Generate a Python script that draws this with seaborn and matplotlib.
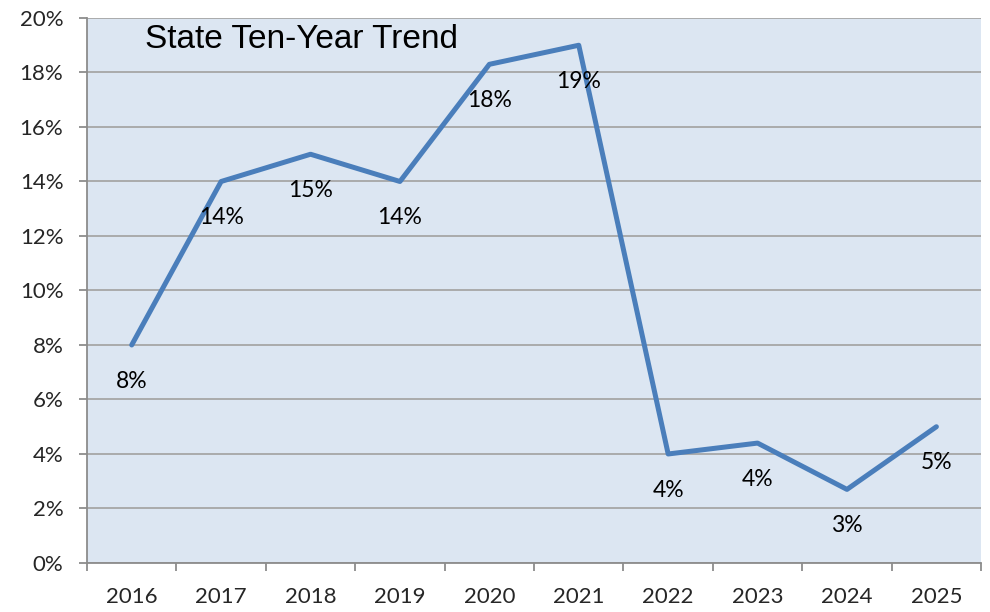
import numpy as np
import pandas as pd
import matplotlib.pyplot as plt
import seaborn as sns
from matplotlib.ticker import FixedLocator, FuncFormatter

# data
years = [2016, 2017, 2018, 2019, 2020, 2021, 2022, 2023, 2024, 2025]
rates = [8.0, 14.0, 15.0, 14.0, 18.3, 19.0, 4.0, 4.4, 2.7, 5.0]
labels = ['8%', '14%', '15%', '14%', '18%', '19%', '4%', '4%', '3%', '5%']

df = pd.DataFrame({'Year': years, 'Rate': rates})

sns.set_style('white')
plt.rcParams['font.family'] = ['Lato', 'DejaVu Sans']

fig = plt.figure(figsize=(9.9, 6.12), dpi=100)
ax = fig.add_axes([0.0879, 0.0801, 0.9031, 0.8905])
ax.set_facecolor('#dce6f2')

sns.lineplot(data=df, x='Year', y='Rate', ax=ax, color='#4a7ebb', linewidth=3.6, zorder=3)

# labels under each point
for x, y, t in zip(years, rates, labels):
    ax.annotate(t, (x, y), xytext=(0, -26), textcoords='offset points',
                ha='center', va='center', fontsize=16.5, color='black', zorder=4)

ax.set_xlim(years[0] - 0.5, years[-1] + 0.5)
ax.set_ylim(0, 20)
ax.set_yticks(np.arange(0, 21, 2))
ax.yaxis.set_major_formatter(FuncFormatter(lambda v, p: f'{v:.0f}%'))
ax.grid(axis='y', color='#a6a6a6', linewidth=1.3, zorder=1)
ax.set_axisbelow(True)

# ticks between categories, labels at the centre
ax.xaxis.set_major_locator(FixedLocator([y - 0.5 for y in years] + [years[-1] + 0.5]))
ax.xaxis.set_major_formatter(FuncFormatter(lambda v, p: ''))
ax.xaxis.set_minor_locator(FixedLocator(years))
ax.xaxis.set_minor_formatter(FuncFormatter(lambda v, p: f'{v:.0f}'))
ax.tick_params(axis='x', which='major', length=6, width=1.3, color='#8c8c8c', direction='out', bottom=True)
ax.tick_params(axis='x', which='minor', length=0, labelsize=16, pad=17)
ax.tick_params(axis='y', length=6, width=1.3, color='#8c8c8c', direction='out', left=True, labelsize=16, pad=11)

for s in ['top', 'right']:
    ax.spines[s].set_visible(False)
for s in ['left', 'bottom']:
    ax.spines[s].set_color('#8c8c8c')
    ax.spines[s].set_linewidth(1.3)

ax.set_xlabel('')
ax.set_ylabel('')

ax.text(0.065, 0.96, 'State Ten-Year Trend', transform=ax.transAxes, ha='left', va='center',
        fontsize=24, family=['Liberation Sans', 'DejaVu Sans'], color='black')

fig.savefig('out.png', dpi=100)
